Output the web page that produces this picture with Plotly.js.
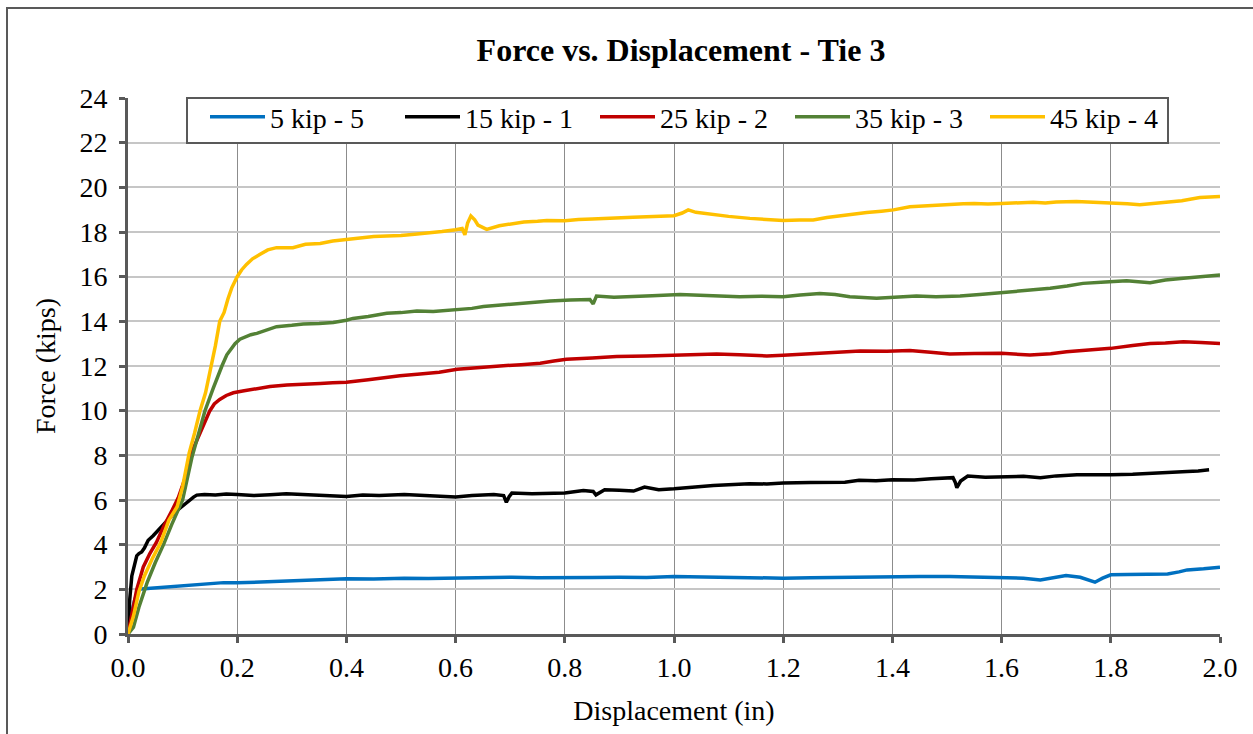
<!DOCTYPE html>
<html>
<head>
<meta charset="utf-8">
<script src="https://cdn.plot.ly/plotly-3.0.1.min.js"></script>
<style>html,body{margin:0;padding:0;background:#fff;}#chart{width:1253px;height:734px;}</style>
</head>
<body>
<div id="chart"></div>
<script>
// ---- data ----
const seriesNames = ["5 kip - 5", "15 kip - 1", "25 kip - 2", "35 kip - 3", "45 kip - 4"];
const seriesColors = ["#0070C0", "#000000", "#C00000", "#538135", "#FFC000"];

const x5 = [0,0.005,0.012,0.018,0.024,0.04,0.06,0.08,0.11,0.146,0.175,0.2,0.25,0.31,0.35,0.4,0.45,0.506,0.55,0.6,0.65,0.703,0.75,0.8,0.85,0.9,0.95,1.0,1.05,1.105,1.15,1.2,1.25,1.305,1.35,1.4,1.45,1.505,1.55,1.6,1.64,1.671,1.69,1.718,1.744,1.76,1.771,1.785,1.8,1.83,1.871,1.904,1.925,1.94,1.97,2.0];
const y5 = [0,0.8,1.5,1.95,2.02,2.05,2.1,2.14,2.2,2.27,2.3,2.29,2.34,2.39,2.42,2.47,2.46,2.5,2.49,2.51,2.53,2.54,2.52,2.51,2.53,2.54,2.53,2.57,2.55,2.54,2.52,2.5,2.52,2.54,2.57,2.6,2.58,2.57,2.55,2.54,2.5,2.42,2.5,2.62,2.54,2.42,2.32,2.5,2.65,2.66,2.69,2.69,2.78,2.87,2.92,2.99];

const x15 = [0,0.003,0.007,0.012,0.016,0.02,0.025,0.03,0.037,0.046,0.056,0.066,0.077,0.086,0.095,0.105,0.114,0.12,0.126,0.14,0.16,0.18,0.2,0.23,0.26,0.29,0.31,0.34,0.37,0.4,0.43,0.46,0.506,0.54,0.57,0.6,0.63,0.67,0.688,0.693,0.698,0.703,0.74,0.77,0.8,0.834,0.852,0.857,0.873,0.9,0.926,0.946,0.972,1.0,1.035,1.072,1.1,1.138,1.17,1.2,1.25,1.313,1.339,1.37,1.4,1.44,1.471,1.511,1.515,1.518,1.525,1.538,1.57,1.6,1.64,1.671,1.7,1.738,1.77,1.8,1.84,1.871,1.9,1.94,1.96,1.98];
const y15 = [0,1.5,2.6,3.1,3.5,3.6,3.67,3.85,4.2,4.4,4.66,4.95,5.25,5.45,5.63,5.85,6.0,6.13,6.22,6.25,6.22,6.27,6.25,6.2,6.24,6.28,6.26,6.22,6.2,6.16,6.22,6.2,6.25,6.2,6.18,6.13,6.2,6.25,6.2,5.9,6.15,6.31,6.28,6.3,6.31,6.43,6.38,6.23,6.46,6.44,6.4,6.58,6.46,6.5,6.58,6.65,6.68,6.73,6.72,6.76,6.78,6.8,6.88,6.86,6.91,6.9,6.95,7.0,6.8,6.55,6.85,7.07,7.02,7.03,7.06,7.0,7.08,7.13,7.12,7.13,7.15,7.2,7.22,7.28,7.3,7.35];

const x25 = [0,0.008,0.016,0.028,0.04,0.052,0.065,0.08,0.092,0.105,0.114,0.123,0.132,0.141,0.15,0.158,0.168,0.18,0.193,0.21,0.23,0.26,0.291,0.32,0.352,0.375,0.4,0.44,0.474,0.498,0.535,0.57,0.603,0.64,0.681,0.72,0.755,0.78,0.803,0.85,0.895,0.95,1.002,1.04,1.078,1.12,1.17,1.2,1.231,1.261,1.3,1.341,1.39,1.432,1.47,1.505,1.55,1.6,1.652,1.69,1.719,1.76,1.8,1.84,1.872,1.9,1.933,1.965,2.0];
const y25 = [0,1.0,2.0,3.0,3.6,4.1,4.8,5.5,6.1,7.0,8.0,8.5,9.0,9.5,10.0,10.3,10.5,10.68,10.8,10.88,10.96,11.08,11.15,11.2,11.22,11.25,11.27,11.38,11.49,11.56,11.64,11.72,11.85,11.93,12.0,12.06,12.12,12.22,12.3,12.36,12.42,12.45,12.49,12.51,12.54,12.5,12.45,12.48,12.52,12.57,12.6,12.67,12.66,12.69,12.62,12.54,12.56,12.57,12.49,12.55,12.64,12.7,12.79,12.92,13.01,13.03,13.09,13.05,13.01];

const x35 = [0,0.01,0.02,0.035,0.05,0.065,0.08,0.1,0.117,0.13,0.141,0.156,0.165,0.172,0.181,0.19,0.196,0.205,0.214,0.225,0.236,0.255,0.272,0.3,0.321,0.35,0.376,0.4,0.412,0.44,0.474,0.5,0.529,0.559,0.58,0.603,0.63,0.651,0.68,0.712,0.74,0.773,0.81,0.846,0.852,0.858,0.89,0.925,0.96,1.011,1.04,1.078,1.12,1.16,1.2,1.231,1.267,1.295,1.322,1.371,1.41,1.444,1.48,1.524,1.56,1.6,1.64,1.689,1.72,1.749,1.79,1.829,1.872,1.9,1.933,1.965,2.0];
const y35 = [0,0.3,1.2,2.3,3.2,4.0,4.9,6.0,7.9,9.0,10.0,11.0,11.6,12.0,12.5,12.8,13.0,13.2,13.3,13.4,13.46,13.62,13.76,13.82,13.88,13.9,13.95,14.05,14.13,14.22,14.36,14.39,14.46,14.44,14.47,14.51,14.58,14.66,14.72,14.81,14.86,14.91,14.95,14.98,14.78,15.13,15.08,15.1,15.15,15.2,15.17,15.13,15.1,15.12,15.1,15.18,15.25,15.2,15.1,15.03,15.08,15.13,15.1,15.13,15.2,15.28,15.35,15.48,15.58,15.7,15.76,15.82,15.73,15.85,15.93,15.98,16.07];

const x45 = [0,0.01,0.02,0.03,0.045,0.06,0.075,0.09,0.1,0.112,0.122,0.132,0.142,0.153,0.16,0.168,0.176,0.183,0.19,0.2,0.208,0.217,0.228,0.242,0.256,0.272,0.29,0.302,0.325,0.352,0.375,0.4,0.425,0.45,0.474,0.5,0.525,0.55,0.575,0.6,0.612,0.617,0.622,0.628,0.635,0.641,0.65,0.657,0.68,0.7,0.725,0.75,0.767,0.8,0.825,0.85,0.864,0.9,0.925,0.95,0.975,1.0,1.015,1.026,1.04,1.066,1.1,1.139,1.17,1.2,1.23,1.255,1.28,1.3,1.325,1.353,1.38,1.402,1.432,1.46,1.48,1.505,1.53,1.55,1.575,1.6,1.63,1.658,1.68,1.7,1.737,1.76,1.78,1.8,1.83,1.853,1.88,1.902,1.93,1.963,1.98,2.0];
const y45 = [0,0.8,1.9,2.6,3.4,4.1,5.1,5.7,6.6,8.1,9.0,10.0,10.8,12.0,12.9,14.0,14.4,15.0,15.5,16.0,16.3,16.55,16.8,17.0,17.2,17.3,17.32,17.3,17.45,17.49,17.6,17.67,17.72,17.8,17.82,17.84,17.9,17.95,18.02,18.1,18.16,17.87,18.4,18.72,18.55,18.31,18.2,18.12,18.28,18.36,18.45,18.48,18.51,18.5,18.56,18.58,18.6,18.63,18.66,18.68,18.7,18.73,18.85,18.99,18.88,18.79,18.7,18.61,18.55,18.51,18.54,18.54,18.65,18.72,18.8,18.87,18.93,18.99,19.13,19.18,19.22,19.25,19.27,19.28,19.25,19.28,19.3,19.33,19.3,19.34,19.37,19.35,19.32,19.28,19.26,19.22,19.28,19.33,19.4,19.54,19.56,19.59];

const xTickVals = [0,0.2,0.4,0.6,0.8,1.0,1.2,1.4,1.6,1.8,2.0];
const xTickText = ["0.0","0.2","0.4","0.6","0.8","1.0","1.2","1.4","1.6","1.8","2.0"];
const yTickVals = [0,2,4,6,8,10,12,14,16,18,20,22,24];

const chartTitle = "Force vs. Displacement - Tie 3";
const xTitle = "Displacement (in)";
const yTitle = "Force (kips)";

// ---- build ----
const xs = [x5, x15, x25, x35, x45];
const ys = [y5, y15, y25, y35, y45];
const traces = xs.map((x, i) => ({
  type: "scatter", mode: "lines", x: x, y: ys[i], name: seriesNames[i],
  line: {color: seriesColors[i], width: 3.5}
}));

const serif = "Liberation Serif";
const L = 128, R = 1220, T = 98, B = 634, W = 1253, H = 734;
const px = v => (v - L) / (R - L);
const py = v => (B - v) / (B - T);

const layout = {
  width: W, height: H,
  margin: {l: L, r: W - R, t: T, b: H - B, pad: 0},
  paper_bgcolor: "#ffffff", plot_bgcolor: "#ffffff",
  font: {family: serif, size: 28, color: "#000000"},
  title: {text: "<b>" + chartTitle + "</b>", font: {family: serif, size: 32, color: "#000"},
          x: px(681), xref: "paper", xanchor: "center", y: 1 - 50 / H, yanchor: "middle"},
  xaxis: {
    range: [0, 2], tickvals: xTickVals, ticktext: xTickText,
    showline: true, linecolor: "#595959", linewidth: 3,
    ticks: "outside", ticklen: 6, tickwidth: 3, tickcolor: "#595959",
    showgrid: true, gridcolor: "#8c8c8c", gridwidth: 1, zeroline: false,
    tickfont: {family: serif, size: 28, color: "#000"},
    title: {text: xTitle, font: {family: serif, size: 28, color: "#000"}, standoff: 19},
    fixedrange: true
  },
  yaxis: {
    range: [0, 24], tickvals: yTickVals,
    showline: true, linecolor: "#595959", linewidth: 3,
    ticks: "outside", ticklen: 6, tickwidth: 3, tickcolor: "#595959",
    showgrid: true, gridcolor: "#c6c6c6", gridwidth: 2, zeroline: false,
    tickfont: {family: serif, size: 28, color: "#000"}, ticklabelstandoff: 6,
    title: {text: yTitle, font: {family: serif, size: 28, color: "#000"}, standoff: 16},
    fixedrange: true
  },
  legend: {
    orientation: "h", x: px(205), xanchor: "left", y: py(92), yanchor: "top",
    bgcolor: "rgba(0,0,0,0)", borderwidth: 0,
    font: {family: serif, size: 28, color: "#000"},
    entrywidth: 125, entrywidthmode: "pixels", itemwidth: 55, traceorder: "normal"
  },
  shapes: [
    {type: "rect", xref: "paper", yref: "paper", x0: px(7), x1: px(1262), y0: py(8), y1: py(745),
     line: {color: "#595959", width: 2}, fillcolor: "rgba(0,0,0,0)", layer: "below"},
    {type: "rect", xref: "paper", yref: "paper", x0: px(187), x1: px(1168), y0: py(98), y1: py(143),
     line: {color: "#595959", width: 2}, fillcolor: "#ffffff", layer: "above"}
  ],
  showlegend: true
};

Plotly.newPlot("chart", traces, layout, {displayModeBar: false, staticPlot: true});
</script>
</body>
</html>
